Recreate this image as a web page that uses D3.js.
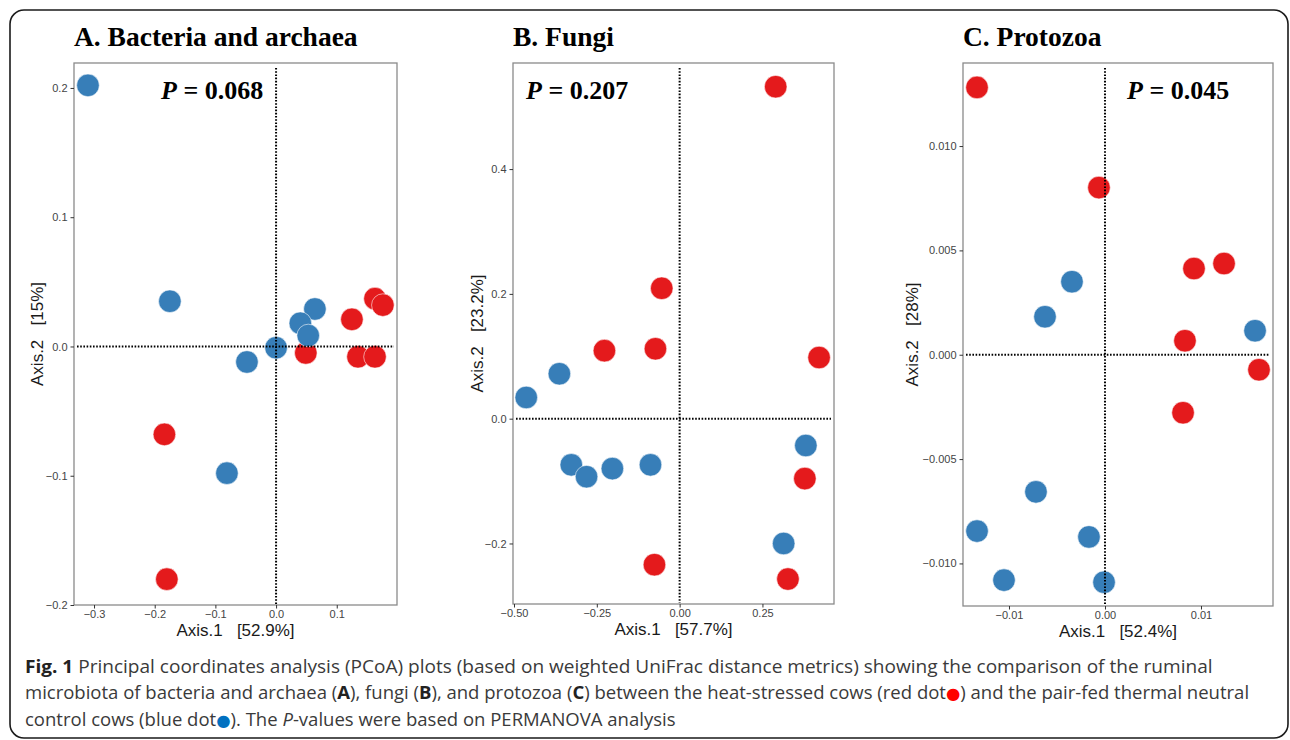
<!DOCTYPE html>
<html>
<head>
<meta charset="utf-8">
<script src="https://cdn.jsdelivr.net/npm/d3@7/dist/d3.min.js"></script>
<style>
  html, body { margin: 0; padding: 0; background: #fff; }
  svg { display: block; }
</style>
</head>
<body>
<svg id="chart" width="1290" height="740"></svg>
<script>
// ---------------- DATA ----------------
// Panel A: Bacteria and archaea
const aTitle = "A. Bacteria and archaea";
const aP = "0.068";
const aXLabel = "Axis.1   [52.9%]";
const aYLabel = "Axis.2   [15%]";
const aXTicks = [-0.3, -0.2, -0.1, 0.0, 0.1];
const aYTicks = [-0.2, -0.1, 0.0, 0.1, 0.2];
const aRedX  = [0.125, 0.163, 0.176, 0.049, 0.135, 0.163, -0.184, -0.180];
const aRedY  = [0.021, 0.037, 0.032, -0.005, -0.008, -0.008, -0.068, -0.180];
const aBlueX = [-0.310, -0.175, 0.064, 0.040, 0.053, 0.000, -0.048, -0.081];
const aBlueY = [0.202, 0.035, 0.029, 0.018, 0.0085, -0.001, -0.012, -0.098];

// Panel B: Fungi
const bTitle = "B. Fungi";
const bP = "0.207";
const bXLabel = "Axis.1   [57.7%]";
const bYLabel = "Axis.2   [23.2%]";
const bXTicks = [-0.50, -0.25, 0.00, 0.25];
const bYTicks = [-0.2, 0.0, 0.2, 0.4];
const bRedX  = [0.290, -0.054, -0.227, -0.073, 0.421, 0.378, -0.076, 0.327];
const bRedY  = [0.532, 0.209, 0.109, 0.112, 0.098, -0.096, -0.234, -0.257];
const bBlueX = [-0.463, -0.363, -0.327, -0.281, -0.203, -0.088, 0.381, 0.314];
const bBlueY = [0.034, 0.072, -0.074, -0.093, -0.080, -0.074, -0.043, -0.200];

// Panel C: Protozoa
const cTitle = "C. Protozoa";
const cP = "0.045";
const cXLabel = "Axis.1   [52.4%]";
const cYLabel = "Axis.2   [28%]";
const cXTicks = [-0.01, 0.00, 0.01];
const cYTicks = [-0.010, -0.005, 0.000, 0.005, 0.010];
const cRedX  = [-0.01333, -0.00063, 0.00927, 0.0124, 0.00833, 0.01604, 0.00813];
const cRedY  = [0.01281, 0.00801, 0.00413, 0.00437, 0.00067, -0.00072, -0.00278];
const cBlueX = [-0.00344, -0.00625, 0.01563, -0.00719, -0.01333, -0.00167, -0.01052, -0.0001];
const cBlueY = [0.0035, 0.00182, 0.00115, -0.00657, -0.00845, -0.00873, -0.0108, -0.0109];

// Caption
const captionLines = [
  [{t: "Fig. 1", w: "bold"}, {t: " Principal coordinates analysis (PCoA) plots (based on weighted UniFrac distance metrics) showing the comparison of the ruminal"}],
  [{t: "microbiota of bacteria and archaea ("}, {t: "A", w: "bold"}, {t: "), fungi ("}, {t: "B", w: "bold"}, {t: "), and protozoa ("}, {t: "C", w: "bold"}, {t: ") between the heat-stressed cows (red dot"}, {t: "\u25CF", c: "#ff0000"}, {t: ") and the pair-fed thermal neutral"}],
  [{t: "control cows (blue dot"}, {t: "\u25CF", c: "#0070c0"}, {t: "). The "}, {t: "P", s: "italic"}, {t: "-values were based on PERMANOVA analysis"}]
];

// ---------------- LAYOUT / STYLE ----------------
const RED = "#e41a1c", BLUE = "#377eb8";
const svg = d3.select("#chart");

svg.append("rect").attr("x", 10).attr("y", 10).attr("width", 1278).attr("height", 728)
  .attr("rx", 14).attr("fill", "none").attr("stroke", "#1a1a1a").attr("stroke-width", 1.6);

const panels = [
  {title: aTitle, p: aP, px: 161, xl: aXLabel, yl: aYLabel, yLabX: 43, xt: aXTicks, yt: aYTicks,
   xfmt: ".1f", yfmt: ".1f", xd: [-0.333, 0.1993], yd: [-0.2, 0.2193], xr: [74, 397], yr: [605, 63],
   red: [aRedX, aRedY], blue: [aBlueX, aBlueY]},
  {title: bTitle, p: bP, px: 526, xl: bXLabel, yl: bYLabel, yLabX: 483, xt: bXTicks, yt: bYTicks,
   xfmt: ".2f", yfmt: ".1f", xd: [-0.503, 0.466], yd: [-0.297, 0.570], xr: [513, 834], yr: [604, 63],
   red: [bRedX, bRedY], blue: [bBlueX, bBlueY]},
  {title: cTitle, p: cP, px: 1127, xl: cXLabel, yl: cYLabel, yLabX: 918, xt: cXTicks, yt: cYTicks,
   xfmt: ".2f", yfmt: ".3f", xd: [-0.01479, 0.0175], yd: [-0.01204, 0.01398], xr: [963, 1273], yr: [606, 63],
   red: [cRedX, cRedY], blue: [cBlueX, cBlueY]}
];

const minus = s => s.replace("-", "\u2212");

panels.forEach(pn => {
  const x = d3.scaleLinear().domain(pn.xd).range(pn.xr);
  const y = d3.scaleLinear().domain(pn.yd).range(pn.yr);
  const g = svg.append("g");
  const L = pn.xr[0], R = pn.xr[1], T = pn.yr[1], B = pn.yr[0];

  // title
  g.append("text").attr("x", L).attr("y", 46)
    .attr("font-family", "'Liberation Serif', 'Times New Roman', serif")
    .attr("font-weight", "bold").attr("font-size", 27.5).attr("fill", "#000")
    .text(pn.title);

  // points (red then blue)
  const redPts = pn.red[0].map((v, i) => ({x: v, y: pn.red[1][i]}));
  const bluePts = pn.blue[0].map((v, i) => ({x: v, y: pn.blue[1][i]}));
  g.selectAll(".r").data(redPts).enter().append("circle")
    .attr("cx", d => x(d.x)).attr("cy", d => y(d.y)).attr("r", 11.3)
    .attr("fill", RED).attr("stroke", "#fff").attr("stroke-width", 0.8).attr("stroke-opacity", 0.7);
  g.selectAll(".b").data(bluePts).enter().append("circle")
    .attr("cx", d => x(d.x)).attr("cy", d => y(d.y)).attr("r", 11.3)
    .attr("fill", BLUE).attr("stroke", "#fff").attr("stroke-width", 0.8).attr("stroke-opacity", 0.7);

  // dotted reference lines
  g.append("line").attr("x1", x(0)).attr("x2", x(0)).attr("y1", T + 5).attr("y2", B - 1)
    .attr("stroke", "#000").attr("stroke-width", 2).attr("stroke-dasharray", "1.6,1.6");
  g.append("line").attr("x1", L + 3).attr("x2", R - 3).attr("y1", y(0)).attr("y2", y(0))
    .attr("stroke", "#000").attr("stroke-width", 2).attr("stroke-dasharray", "1.6,1.6");

  // panel border
  g.append("rect").attr("x", L).attr("y", T).attr("width", R - L).attr("height", B - T)
    .attr("fill", "none").attr("stroke", "#8a8a8a").attr("stroke-width", 1.3);

  // axes
  const xAxis = d3.axisBottom(x).tickValues(pn.xt).tickSize(3.5).tickPadding(2)
    .tickFormat(d => minus(d3.format(pn.xfmt)(d)));
  const yAxis = d3.axisLeft(y).tickValues(pn.yt).tickSize(3.5).tickPadding(3)
    .tickFormat(d => minus(d3.format(pn.yfmt)(d)));
  const gx = g.append("g").attr("transform", `translate(0,${B})`).call(xAxis);
  const gy = g.append("g").attr("transform", `translate(${L},0)`).call(yAxis);
  [gx, gy].forEach(a => {
    a.select(".domain").remove();
    a.selectAll(".tick line").attr("stroke", "#333").attr("stroke-width", 1);
    a.selectAll(".tick text").attr("fill", "#444")
      .attr("font-family", "'Liberation Sans', Arial, sans-serif").attr("font-size", 11);
  });

  // axis titles
  g.append("text").attr("x", (L + R) / 2).attr("y", B + 31).attr("text-anchor", "middle")
    .attr("font-family", "'Liberation Sans', Arial, sans-serif").attr("font-size", 17)
    .attr("fill", "#1a1a1a").style("white-space", "pre").text(pn.xl);
  g.append("text").attr("transform", `translate(${pn.yLabX},${(T + B) / 2}) rotate(-90)`)
    .attr("text-anchor", "middle")
    .attr("font-family", "'Liberation Sans', Arial, sans-serif").attr("font-size", 17)
    .attr("fill", "#1a1a1a").style("white-space", "pre").text(pn.yl);

  // P value
  const pt = g.append("text").attr("x", pn.px).attr("y", 99)
    .attr("font-family", "'Liberation Serif', 'Times New Roman', serif")
    .attr("font-weight", "bold").attr("font-size", 26).attr("fill", "#000")
    .style("white-space", "pre");
  pt.append("tspan").attr("font-style", "italic").text("P");
  pt.append("tspan").text(" = " + pn.p);
});

// caption
const capBase = [673, 699, 726];
const capRight = [1214, 1250, 676];
captionLines.forEach((parts, i) => {
  const t = svg.append("text").attr("x", 25).attr("y", capBase[i])
    .attr("font-family", "'Open Sans', 'Noto Sans', sans-serif").attr("font-size", 18)
    .attr("fill", "#3a3a3a").style("white-space", "pre");
  parts.forEach(p => {
    const ts = t.append("tspan").text(p.t);
    if (p.w) ts.attr("font-weight", p.w).attr("fill", "#222");
    if (p.s) ts.attr("font-style", p.s);
    if (p.c) ts.attr("fill", p.c).attr("font-family", "'DejaVu Sans', sans-serif").attr("font-size", 16);
  });
  const w = t.node().getComputedTextLength();
  const sx = (capRight[i] - 25) / w;
  t.attr("transform", `translate(25,0) scale(${sx},1) translate(-25,0)`);
});
</script>
</body>
</html>
